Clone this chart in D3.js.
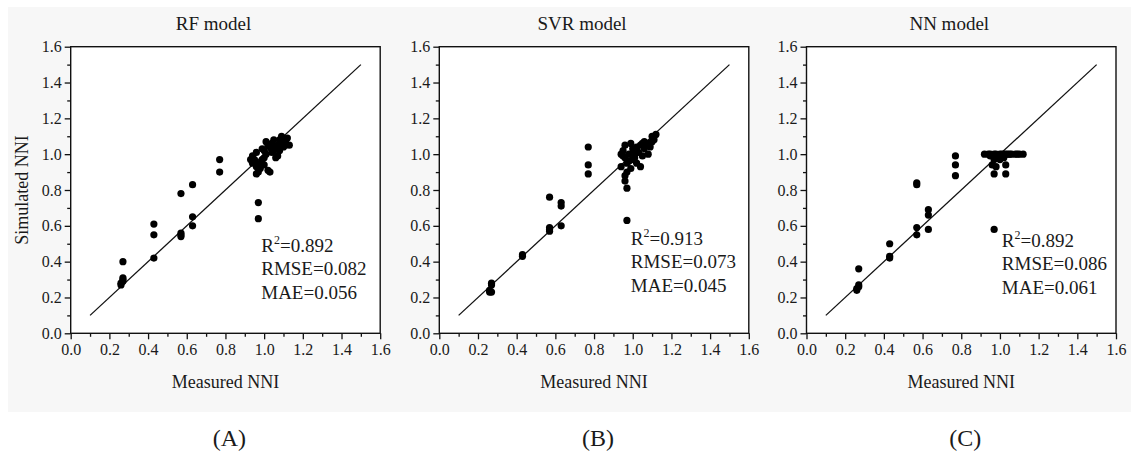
<!DOCTYPE html>
<html>
<head>
<meta charset="utf-8">
<script src="https://cdn.jsdelivr.net/npm/d3@7"></script>
<style>
  html, body { margin: 0; padding: 0; background: #ffffff; }
  svg { display: block; }
  text { font-family: "Liberation Serif", "Times New Roman", serif; fill: #1a1a1a; }
</style>
</head>
<body>
<svg id="chart" width="1131" height="459"></svg>
<script>
// ---------------- data ----------------
const panelTitles = ["RF model", "SVR model", "NN model"];
const panelLetters = ["(A)", "(B)", "(C)"];
const xAxisTitle = "Measured NNI";
const yAxisTitle = "Simulated NNI";
const axisTicks = [0.0, 0.2, 0.4, 0.6, 0.8, 1.0, 1.2, 1.4, 1.6];
const minorTicks = [0.1, 0.3, 0.5, 0.7, 0.9, 1.1, 1.3, 1.5];
const oneToOneLine = [0.1, 1.5];

const statR2 = ["0.892", "0.913", "0.892"];
const statRMSE = ["0.082", "0.073", "0.086"];
const statMAE = ["0.056", "0.045", "0.061"];

// RF model: measured / simulated
const rfMeasured = [0.26,0.26,0.27,0.27,0.27,0.27, 0.43,0.43,0.43, 0.57,0.57,0.57,0.57, 0.63,0.63,0.63, 0.77,0.77, 0.97,0.97,
  0.93,0.94,0.95,0.94,0.96,0.96,0.97,0.96,0.98,0.99,1.00,1.01,1.02,1.01,1.03,1.04,1.05,1.06,1.07,1.08,1.09,1.10,1.11,1.12,1.11,1.02,1.03,1.06,1.07,1.00,0.99,1.04,1.08,0.98,1.00,1.05,1.09,1.13,0.95];
const rfSimulated = [0.27,0.28,0.29,0.30,0.31,0.40, 0.42,0.55,0.61, 0.78,0.54,0.55,0.56, 0.83,0.65,0.60, 0.97,0.90, 0.73,0.64,
  0.97,0.95,0.96,0.99,1.01,0.93,0.90,0.89,0.95,0.97,1.02,1.00,1.05,1.07,1.04,1.06,1.08,1.03,1.05,1.08,1.06,1.04,1.05,1.09,1.07,0.91,0.90,0.98,0.99,0.98,1.03,1.01,1.02,0.92,0.94,1.02,1.10,1.05,0.97];

// SVR model
const svrMeasured = [0.26,0.27,0.26,0.27,0.27, 0.43,0.43, 0.57,0.57,0.57,0.57, 0.63,0.63,0.63, 0.77,0.77,0.77, 0.97,0.97,0.96,
  0.94,0.94,0.95,0.96,0.96,0.97,0.97,0.96,0.98,0.98,0.99,1.00,1.00,1.01,1.02,1.02,1.03,1.04,1.04,1.05,1.05,1.06,1.07,1.08,1.08,1.09,1.10,1.10,1.11,1.12,0.99,1.01,0.95,1.06];
const svrSimulated = [0.23,0.23,0.24,0.27,0.28, 0.43,0.44, 0.76,0.57,0.58,0.59, 0.73,0.71,0.60, 1.04,0.94,0.89, 0.63,0.81,0.85,
  0.93,1.00,1.02,1.05,0.98,0.95,0.90,0.88,0.96,1.00,0.92,0.97,1.03,1.00,0.95,1.04,1.01,0.93,1.05,1.06,0.99,1.03,1.05,1.06,1.00,1.04,1.07,1.10,1.08,1.11,1.06,0.98,0.99,1.07];

// NN model
const nnMeasured = [0.27,0.26,0.26,0.27,0.27, 0.43,0.43,0.43, 0.57,0.57,0.57,0.57, 0.63,0.63,0.63, 0.77,0.77,0.77, 0.97,
  0.92,0.94,0.95,0.97,0.98,1.00,1.01,1.02,1.03,1.04,1.05,1.06,1.08,1.09,1.10,1.12,
  0.96,0.97,0.97,0.98,1.00,1.03,1.03,1.02,0.99,0.95];
const nnSimulated = [0.36,0.24,0.25,0.26,0.27, 0.50,0.42,0.43, 0.83,0.84,0.59,0.55, 0.69,0.66,0.58, 0.99,0.94,0.88, 0.58,
  1.00,1.00,1.00,1.00,1.00,1.00,1.00,1.00,1.00,1.00,1.00,1.00,1.00,1.00,1.00,1.00,
  0.94,0.97,0.89,0.93,0.97,0.94,0.89,0.98,0.99,0.99];

const measuredSets = [rfMeasured, svrMeasured, nnMeasured];
const simulatedSets = [rfSimulated, svrSimulated, nnSimulated];

// ---------------- layout ----------------
const svg = d3.select("#chart");
svg.append("rect").attr("x", 8).attr("y", 7).attr("width", 1123).attr("height", 405).attr("fill", "#f7f7f7");

const panelLeft = [70.7, 439.3, 806.5];
const plotW = 309.5;
const plotTop = 46.7, plotBottom = 333.3;
const statPos = [[0.985, 0.456], [0.99, 0.493], [1.01, 0.484]];

panelTitles.forEach((title, i) => {
  const x = d3.scaleLinear().domain([0, 1.6]).range([panelLeft[i], panelLeft[i] + plotW]);
  const y = d3.scaleLinear().domain([0, 1.6]).range([plotBottom, plotTop]);
  const g = svg.append("g");

  g.append("rect")
    .attr("x", x(0)).attr("y", y(1.6))
    .attr("width", x(1.6) - x(0)).attr("height", y(0) - y(1.6))
    .attr("fill", "#ffffff").attr("stroke", "#111").attr("stroke-width", 1.4);

  const xMinor = d3.axisBottom(x).tickValues(minorTicks).tickSize(3.5).tickFormat("");
  const yMinor = d3.axisLeft(y).tickValues(minorTicks).tickSize(3.5).tickFormat("");
  const xMajor = d3.axisBottom(x).tickValues(axisTicks).tickSize(6).tickPadding(4).tickFormat(d3.format(".1f"));
  const yMajor = d3.axisLeft(y).tickValues(axisTicks).tickSize(6).tickPadding(3).tickFormat(d3.format(".1f"));

  [xMinor, xMajor].forEach(ax => {
    const a = g.append("g").attr("transform", `translate(0,${y(0)})`).call(ax);
    a.select(".domain").remove();
    a.selectAll(".tick line").attr("stroke", "#111").attr("stroke-width", 1.3);
    a.selectAll(".tick text").attr("font-size", 16).attr("font-family", "Liberation Serif").attr("fill", "#1a1a1a");
  });
  [yMinor, yMajor].forEach(ax => {
    const a = g.append("g").attr("transform", `translate(${x(0)},0)`).call(ax);
    a.select(".domain").remove();
    a.selectAll(".tick line").attr("stroke", "#111").attr("stroke-width", 1.3);
    a.selectAll(".tick text").attr("font-size", 16).attr("font-family", "Liberation Serif").attr("fill", "#1a1a1a");
  });

  g.append("line")
    .attr("x1", x(oneToOneLine[0])).attr("y1", y(oneToOneLine[0]))
    .attr("x2", x(oneToOneLine[1])).attr("y2", y(oneToOneLine[1]))
    .attr("stroke", "#111").attr("stroke-width", 1.3);

  const pts = measuredSets[i].map((m, k) => [m, simulatedSets[i][k]]);
  g.selectAll("circle.pt").data(pts).enter().append("circle")
    .attr("class", "pt")
    .attr("cx", d => x(d[0])).attr("cy", d => y(d[1]))
    .attr("r", 3.6).attr("fill", "#000");

  const sx = x(statPos[i][0]), sy = y(statPos[i][1]);
  const t1 = g.append("text").attr("x", sx).attr("y", sy).attr("font-size", 19);
  t1.append("tspan").text("R");
  t1.append("tspan").attr("font-size", 12).attr("dy", -8).text("2");
  t1.append("tspan").attr("dy", 8).text("=" + statR2[i]);
  g.append("text").attr("x", sx).attr("y", sy + 23.5).attr("font-size", 19).text("RMSE=" + statRMSE[i]);
  g.append("text").attr("x", sx).attr("y", sy + 47).attr("font-size", 19).text("MAE=" + statMAE[i]);

  g.append("text").attr("x", (x(0) + x(1.6)) / 2 - 12).attr("y", 29.5)
    .attr("text-anchor", "middle").attr("font-size", 19).text(title);

  g.append("text").attr("x", (x(0) + x(1.6)) / 2).attr("y", 388)
    .attr("text-anchor", "middle").attr("font-size", 18).text(xAxisTitle);

  g.append("text").attr("x", (x(0) + x(1.6)) / 2 + 4).attr("y", 446)
    .attr("text-anchor", "middle").attr("font-size", 24).text(panelLetters[i]);

  if (i === 0) {
    g.append("text")
      .attr("transform", `translate(28,${(y(0) + y(1.6)) / 2}) rotate(-90)`)
      .attr("text-anchor", "middle").attr("font-size", 18).text(yAxisTitle);
  }
});
</script>
</body>
</html>
